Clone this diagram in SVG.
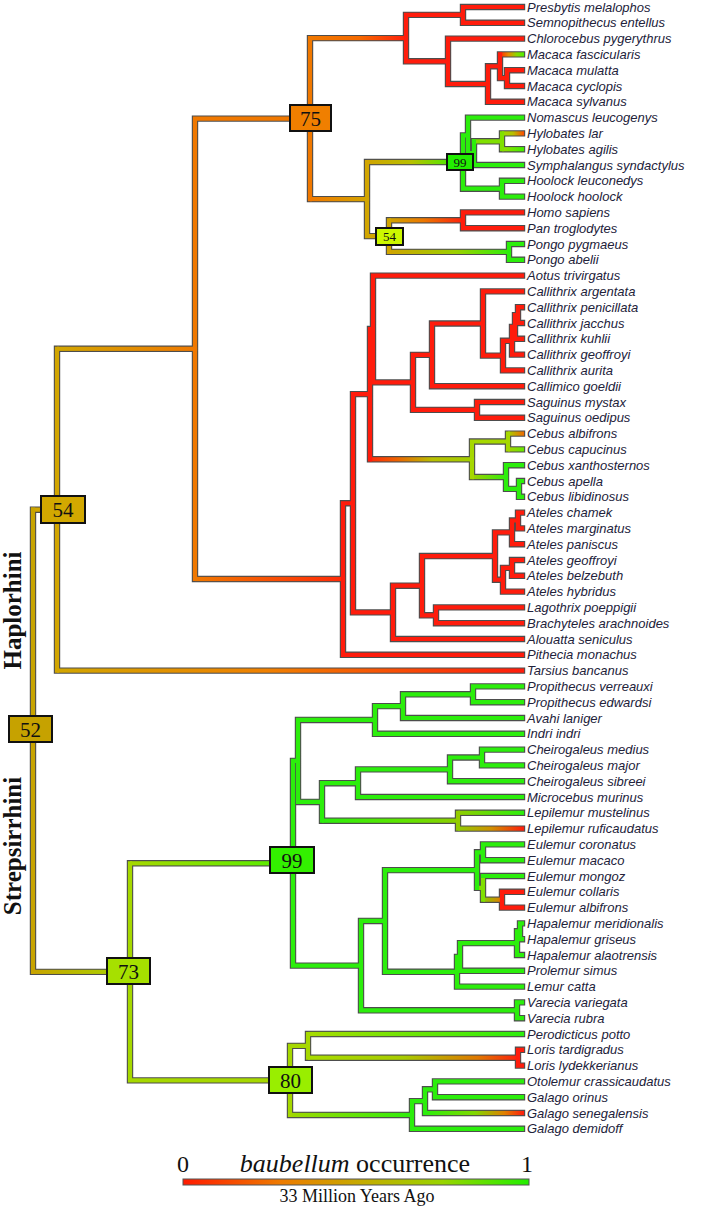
<svg xmlns="http://www.w3.org/2000/svg" width="707" height="1210" viewBox="0 0 707 1210">
<style>
.o{fill:none;stroke:#4d4d4d;stroke-width:6.4;stroke-linecap:square}
.c{fill:none;stroke-width:4.2;stroke-linecap:square}
.lf{font-family:"Liberation Sans",Arial,sans-serif;font-style:italic;font-size:13px;fill:#22223a}
.bx{stroke:#111;stroke-width:2}
.bt{font-family:"Liberation Serif","Times New Roman",serif;font-size:21px;fill:#111;text-anchor:middle}
.bs{font-family:"Liberation Serif","Times New Roman",serif;font-size:13px;fill:#111;text-anchor:middle}
.side{font-family:"Liberation Serif","Times New Roman",serif;font-weight:bold;font-size:25px;fill:#111;text-anchor:middle}
.lg{font-family:"Liberation Serif","Times New Roman",serif;fill:#111;text-anchor:middle}
</style>
<defs>
<linearGradient id="g2"><stop offset="0" stop-color="#c8a400"/><stop offset="1" stop-color="#a6d800"/></linearGradient>
<linearGradient id="g3"><stop offset="0" stop-color="#d2a600"/><stop offset="1" stop-color="#f07800"/></linearGradient>
<linearGradient id="g4"><stop offset="0" stop-color="#d2a600"/><stop offset="0.45" stop-color="#f08000"/><stop offset="1" stop-color="#ff1c0c"/></linearGradient>
<linearGradient id="g6"><stop offset="0" stop-color="#f07800"/><stop offset="1" stop-color="#ff2a08"/></linearGradient>
<linearGradient id="g7"><stop offset="0" stop-color="#f07800"/><stop offset="0.5" stop-color="#f56a00"/><stop offset="1" stop-color="#ff1c0c"/></linearGradient>
<linearGradient id="g8"><stop offset="0" stop-color="#f07800"/><stop offset="1" stop-color="#d2a600"/></linearGradient>
<linearGradient id="g17"><stop offset="0" stop-color="#ff2a00"/><stop offset="0.35" stop-color="#e88a00"/><stop offset="0.7" stop-color="#88dd00"/><stop offset="1" stop-color="#50ee00"/></linearGradient>
<linearGradient id="g21"><stop offset="0" stop-color="#d0a400"/><stop offset="0.45" stop-color="#b8c000"/><stop offset="0.85" stop-color="#50e800"/><stop offset="1" stop-color="#2cee0c"/></linearGradient>
<linearGradient id="g29"><stop offset="0" stop-color="#99dd00"/><stop offset="0.5" stop-color="#b8c000"/><stop offset="1" stop-color="#ff4a00"/></linearGradient>
<linearGradient id="g30"><stop offset="0" stop-color="#99dd00"/><stop offset="1" stop-color="#40ee00"/></linearGradient>
<linearGradient id="g33"><stop offset="0" stop-color="#d0a400"/><stop offset="0.45" stop-color="#ec7800"/><stop offset="1" stop-color="#ff1c0c"/></linearGradient>
<linearGradient id="g34"><stop offset="0" stop-color="#d0a400"/><stop offset="0.55" stop-color="#9cd000"/><stop offset="1" stop-color="#2cee0c"/></linearGradient>
<linearGradient id="g44"><stop offset="0" stop-color="#ff2a08"/><stop offset="0.25" stop-color="#ee6000"/><stop offset="0.6" stop-color="#b8c000"/><stop offset="1" stop-color="#a0d000"/></linearGradient>
<linearGradient id="g64"><stop offset="0" stop-color="#a0d000"/><stop offset="1" stop-color="#2cee0c"/></linearGradient>
<linearGradient id="g65"><stop offset="0" stop-color="#a8d000"/><stop offset="1" stop-color="#f06a00"/></linearGradient>
<linearGradient id="g66"><stop offset="0" stop-color="#a8d000"/><stop offset="1" stop-color="#66e800"/></linearGradient>
<linearGradient id="g87"><stop offset="0" stop-color="#a6d800"/><stop offset="1" stop-color="#50ee00"/></linearGradient>
<linearGradient id="g100"><stop offset="0" stop-color="#2cee0c"/><stop offset="0.6" stop-color="#60e400"/><stop offset="1" stop-color="#90cc00"/></linearGradient>
<linearGradient id="g107"><stop offset="0" stop-color="#90cc00"/><stop offset="1" stop-color="#2cee0c"/></linearGradient>
<linearGradient id="g108"><stop offset="0" stop-color="#90cc00"/><stop offset="0.5" stop-color="#d09000"/><stop offset="1" stop-color="#ff1c0c"/></linearGradient>
<linearGradient id="g118"><stop offset="0" stop-color="#88cc00"/><stop offset="1" stop-color="#f07000"/></linearGradient>
<linearGradient id="g132"><stop offset="0" stop-color="#a0d800"/><stop offset="1" stop-color="#2cee0c"/></linearGradient>
<linearGradient id="g133"><stop offset="0" stop-color="#a8dc00"/><stop offset="1" stop-color="#2cee0c"/></linearGradient>
<linearGradient id="g134"><stop offset="0" stop-color="#a8dc00"/><stop offset="0.45" stop-color="#a8cc00"/><stop offset="0.8" stop-color="#e07800"/><stop offset="1" stop-color="#ff1c0c"/></linearGradient>
<linearGradient id="g140"><stop offset="0" stop-color="#2cee0c"/><stop offset="0.5" stop-color="#80d800"/><stop offset="0.8" stop-color="#e08000"/><stop offset="1" stop-color="#ff1c0c"/></linearGradient>
<linearGradient id="glg"><stop offset="0" stop-color="#ff1a00"/><stop offset="0.28" stop-color="#ee7a00"/><stop offset="0.5" stop-color="#c8a800"/><stop offset="0.75" stop-color="#99d400"/><stop offset="1" stop-color="#22ee00"/></linearGradient>
</defs>
<rect width="707" height="1210" fill="#fff"/>
<g id="connectors">
<path class="o" d="M33 509.7V971.85M57 348.8V670.6M195 118.6V579M310 38.1V199.1M406 14.9V61.3M463 7V22.8M448 38.6V84M488 66.25V101.8M500 54.4V78.1M507 70.2V86M367 162.05V236.1M463 135.4V188.7M468 117.6V153.15M474 141.3V165M502 133.4V149.2M502 180.8V196.6M389 220.3V251.9M463 212.4V228.2M509 244V259.8M343 503.25V654.8M353 394.15V612.35M370 329V459.3M373 275.6V382.4M413 354.85V409.9M432 323.5V386.2M483 291.4V355.6M503 340.8V370.4M512 326.95V354.6M515 315.1V338.8M518 307.2V323M477 402V417.8M472 441.5V477.05M508 433.6V449.4M506 465.2V488.9M519 481V496.8M393 585.7V639M422 556.05V615.3M436 607.4V623.2M495 532.35V579.75M512 520.5V544.2M518 512.6V528.4M503 567.9V591.6M512 560V575.8M130 863.3V1080.4M293 760.95V965.6M298 719.95V801.95M375 706.15V733.8M403 694.3V718M473 686.4V702.2M322 783.2V820.7M358 769.35V797M450 757.5V781.2M482 749.6V765.4M458 812.8V828.6M361 920.95V1010.3M385 870.1V971.8M477 852.3V887.85M483 844.4V860.2M483 876V899.7M502 891.8V907.6M457 956.95V986.6M460 943.15V970.8M517 931.3V955M520 923.4V939.2M517 1002.4V1018.2M290 1045.85V1114.95M308 1034V1057.7M518 1049.8V1065.6M412 1101.15V1128.8M425 1089.3V1113M435 1081.4V1097.2
M33 509.7H57M33 971.85H130M57 348.8H195M57 670.6H522M195 118.6H310M195 579H343M310 38.1H406M310 199.1H367M406 14.9H463M406 61.3H448M463 7H522M463 22.8H522M448 38.6H522M448 84H488M488 66.25H500M488 101.8H522M500 54.4H522M500 78.1H507M507 70.2H522M507 86H522M367 162.05H463M367 236.1H389M463 135.4H468M463 188.7H502M468 117.6H522M468 153.15H474M474 141.3H502M474 165H522M502 133.4H522M502 149.2H522M502 180.8H522M502 196.6H522M389 220.3H463M389 251.9H509M463 212.4H522M463 228.2H522M509 244H522M509 259.8H522M343 503.25H353M343 654.8H522M353 394.15H370M353 612.35H393M370 329H373M370 459.3H472M373 275.6H522M373 382.4H413M413 354.85H432M413 409.9H477M432 323.5H483M432 386.2H522M483 291.4H522M483 355.6H503M503 340.8H512M503 370.4H522M512 326.95H515M512 354.6H522M515 315.1H518M515 338.8H522M518 307.2H522M518 323H522M477 402H522M477 417.8H522M472 441.5H508M472 477.05H506M508 433.6H522M508 449.4H522M506 465.2H522M506 488.9H519M519 481H522M519 496.8H522M393 585.7H422M393 639H522M422 556.05H495M422 615.3H436M436 607.4H522M436 623.2H522M495 532.35H512M495 579.75H503M512 520.5H518M512 544.2H522M518 512.6H522M518 528.4H522M503 567.9H512M503 591.6H522M512 560H522M512 575.8H522M130 863.3H293M130 1080.4H290M293 760.95H298M293 965.6H361M298 719.95H375M298 801.95H322M375 706.15H403M375 733.8H522M403 694.3H473M403 718H522M473 686.4H522M473 702.2H522M322 783.2H358M322 820.7H458M358 769.35H450M358 797H522M450 757.5H482M450 781.2H522M482 749.6H522M482 765.4H522M458 812.8H522M458 828.6H522M361 920.95H385M361 1010.3H517M385 870.1H477M385 971.8H457M477 852.3H483M477 887.85H483M483 844.4H522M483 860.2H522M483 876H522M483 899.7H502M502 891.8H522M502 907.6H522M457 956.95H460M457 986.6H522M460 943.15H517M460 970.8H522M517 931.3H520M517 955H522M520 923.4H522M520 939.2H522M517 1002.4H522M517 1018.2H522M290 1045.85H308M290 1114.95H412M308 1034H522M308 1057.7H518M518 1049.8H522M518 1065.6H522M412 1101.15H425M412 1128.8H522M425 1089.3H435M425 1113H522M435 1081.4H522M435 1097.2H522"/>
<rect x="33" y="969.75" width="99.1" height="4.2" fill="url(#g2)"/>
<rect x="57" y="346.7" width="140.1" height="4.2" fill="url(#g3)"/>
<rect x="57" y="668.5" width="467.1" height="4.2" fill="url(#g4)"/>
<rect x="195" y="576.9" width="150.1" height="4.2" fill="url(#g6)"/>
<rect x="310" y="36" width="98.1" height="4.2" fill="url(#g7)"/>
<rect x="310" y="197" width="59.1" height="4.2" fill="url(#g8)"/>
<rect x="500" y="52.3" width="24.1" height="4.2" fill="url(#g17)"/>
<rect x="367" y="159.95" width="98.1" height="4.2" fill="url(#g21)"/>
<rect x="502" y="131.3" width="22.1" height="4.2" fill="url(#g29)"/>
<rect x="502" y="147.1" width="22.1" height="4.2" fill="url(#g30)"/>
<rect x="389" y="218.2" width="76.1" height="4.2" fill="url(#g33)"/>
<rect x="389" y="249.8" width="122.1" height="4.2" fill="url(#g34)"/>
<rect x="370" y="457.2" width="104.1" height="4.2" fill="url(#g44)"/>
<rect x="472" y="474.95" width="36.1" height="4.2" fill="url(#g64)"/>
<rect x="508" y="431.5" width="16.1" height="4.2" fill="url(#g65)"/>
<rect x="508" y="447.3" width="16.1" height="4.2" fill="url(#g66)"/>
<rect x="130" y="861.2" width="165.1" height="4.2" fill="url(#g87)"/>
<rect x="322" y="818.6" width="138.1" height="4.2" fill="url(#g100)"/>
<rect x="458" y="810.7" width="66.1" height="4.2" fill="url(#g107)"/>
<rect x="458" y="826.5" width="66.1" height="4.2" fill="url(#g108)"/>
<rect x="483" y="897.6" width="21.1" height="4.2" fill="url(#g118)"/>
<rect x="290" y="1112.85" width="124.1" height="4.2" fill="url(#g132)"/>
<rect x="308" y="1031.9" width="216.1" height="4.2" fill="url(#g133)"/>
<rect x="308" y="1055.6" width="212.1" height="4.2" fill="url(#g134)"/>
<rect x="425" y="1110.9" width="99.1" height="4.2" fill="url(#g140)"/>
<path class="c" stroke="#ff1c0c" d="M406 14.9V61.3M463 7V22.8M448 38.6V84M488 66.25V101.8M500 54.4V78.1M507 70.2V86M463 212.4V228.2M343 503.25V654.8M353 394.15V612.35M370 329V459.3M373 275.6V382.4M413 354.85V409.9M432 323.5V386.2M483 291.4V355.6M503 340.8V370.4M512 326.95V354.6M515 315.1V338.8M518 307.2V323M477 402V417.8M393 585.7V639M422 556.05V615.3M436 607.4V623.2M495 532.35V579.75M512 520.5V544.2M518 512.6V528.4M503 567.9V591.6M512 560V575.8M502 891.8V907.6M518 1049.8V1065.6M406 14.9H463M406 61.3H448M463 7H522M463 22.8H522M448 38.6H522M448 84H488M488 66.25H500M488 101.8H522M500 78.1H507M507 70.2H522M507 86H522M463 212.4H522M463 228.2H522M343 503.25H353M343 654.8H522M353 394.15H370M353 612.35H393M370 329H373M373 275.6H522M373 382.4H413M413 354.85H432M413 409.9H477M432 323.5H483M432 386.2H522M483 291.4H522M483 355.6H503M503 340.8H512M503 370.4H522M512 326.95H515M512 354.6H522M515 315.1H518M515 338.8H522M518 307.2H522M518 323H522M477 402H522M477 417.8H522M393 585.7H422M393 639H522M422 556.05H495M422 615.3H436M436 607.4H522M436 623.2H522M495 532.35H512M495 579.75H503M512 520.5H518M512 544.2H522M518 512.6H522M518 528.4H522M503 567.9H512M503 591.6H522M512 560H522M512 575.8H522M502 891.8H522M502 907.6H522M518 1049.8H522M518 1065.6H522"/>
<path class="c" stroke="#f07800" d="M195 118.6V579M310 38.1V199.1M195 118.6H310"/>
<path class="c" stroke="#d2a600" d="M57 348.8V670.6M367 162.05V236.1M389 220.3V251.9M33 509.7H57M367 236.1H389"/>
<path class="c" stroke="#c8a400" d="M33 509.7V971.85"/>
<path class="c" stroke="#a6d800" d="M130 863.3V1080.4M290 1045.85V1114.95M308 1034V1057.7M472 441.5V477.05M508 433.6V449.4M130 1080.4H290M290 1045.85H308M472 441.5H508"/>
<path class="c" stroke="#94cc00" d="M458 812.8V828.6"/>
<path class="c" stroke="#80e000" d="M502 133.4V149.2M474 141.3H502M483 876V899.7M477 887.85H483"/>
<path class="c" stroke="#2cee0c" d="M463 135.4V188.7M468 117.6V153.15M474 141.3V165M502 180.8V196.6M509 244V259.8M506 465.2V488.9M519 481V496.8M293 760.95V965.6M298 719.95V801.95M375 706.15V733.8M403 694.3V718M473 686.4V702.2M322 783.2V820.7M358 769.35V797M450 757.5V781.2M482 749.6V765.4M361 920.95V1010.3M385 870.1V971.8M477 852.3V887.85M483 844.4V860.2M457 956.95V986.6M460 943.15V970.8M517 931.3V955M520 923.4V939.2M517 1002.4V1018.2M412 1101.15V1128.8M425 1089.3V1113M435 1081.4V1097.2M463 135.4H468M463 188.7H502M468 117.6H522M468 153.15H474M474 165H522M502 180.8H522M502 196.6H522M509 244H522M509 259.8H522M506 465.2H522M506 488.9H519M519 481H522M519 496.8H522M293 760.95H298M293 965.6H361M298 719.95H375M298 801.95H322M375 706.15H403M375 733.8H522M403 694.3H473M403 718H522M473 686.4H522M473 702.2H522M322 783.2H358M358 769.35H450M358 797H522M450 757.5H482M450 781.2H522M482 749.6H522M482 765.4H522M361 920.95H385M361 1010.3H517M385 870.1H477M385 971.8H457M477 852.3H483M483 844.4H522M483 860.2H522M483 876H522M457 956.95H460M457 986.6H522M460 943.15H517M460 970.8H522M517 931.3H520M517 955H522M520 923.4H522M520 939.2H522M517 1002.4H522M517 1018.2H522M412 1101.15H425M412 1128.8H522M425 1089.3H435M435 1081.4H522M435 1097.2H522"/>
</g>
<g id="node-52"><rect class="bx" x="9" y="716" width="43" height="26" fill="#c6a200"/><text class="bt" x="30.5" y="736.5">52</text></g>
<g id="node-54"><rect class="bx" x="41" y="496" width="44" height="27" fill="#d2a800"/><text class="bt" x="63" y="517">54</text></g>
<g id="node-75"><rect class="bx" x="290" y="105" width="41" height="26" fill="#f07f00"/><text class="bt" x="310.5" y="125.5">75</text></g>
<g id="node-73"><rect class="bx" x="107" y="958" width="43" height="26" fill="#a6e000"/><text class="bt" x="128.5" y="978.5">73</text></g>
<g id="node-99-lemur"><rect class="bx" x="270" y="847" width="44" height="26" fill="#33f000"/><text class="bt" x="292" y="867.5">99</text></g>
<g id="node-80"><rect class="bx" x="269" y="1067" width="43" height="26" fill="#99ee00"/><text class="bt" x="290.5" y="1087.5">80</text></g>
<g id="node-99-gibbon"><rect class="bx" x="447" y="154" width="26" height="16" fill="#22ee00"/><text class="bs" x="460" y="166.5">99</text></g>
<g id="node-54-hominid"><rect class="bx" x="376" y="228" width="27" height="17" fill="#ccf800"/><text class="bs" x="389.5" y="241">54</text></g>
<g id="clade-labels">
<text class="side" transform="translate(21 610.5) rotate(-90)">Haplorhini</text>
<text class="side" transform="translate(21 846) rotate(-90)">Strepsirrhini</text>
</g>
<g id="leaves">
<text class="lf" x="527" y="11.6">Presbytis melalophos</text>
<text class="lf" x="527" y="27.4">Semnopithecus entellus</text>
<text class="lf" x="527" y="43.2">Chlorocebus pygerythrus</text>
<text class="lf" x="527" y="59">Macaca fascicularis</text>
<text class="lf" x="527" y="74.8">Macaca mulatta</text>
<text class="lf" x="527" y="90.6">Macaca cyclopis</text>
<text class="lf" x="527" y="106.4">Macaca sylvanus</text>
<text class="lf" x="527" y="122.2">Nomascus leucogenys</text>
<text class="lf" x="527" y="138">Hylobates lar</text>
<text class="lf" x="527" y="153.8">Hylobates agilis</text>
<text class="lf" x="527" y="169.6">Symphalangus syndactylus</text>
<text class="lf" x="527" y="185.4">Hoolock leuconedys</text>
<text class="lf" x="527" y="201.2">Hoolock hoolock</text>
<text class="lf" x="527" y="217">Homo sapiens</text>
<text class="lf" x="527" y="232.8">Pan troglodytes</text>
<text class="lf" x="527" y="248.6">Pongo pygmaeus</text>
<text class="lf" x="527" y="264.4">Pongo abelii</text>
<text class="lf" x="527" y="280.2">Aotus trivirgatus</text>
<text class="lf" x="527" y="296">Callithrix argentata</text>
<text class="lf" x="527" y="311.8">Callithrix penicillata</text>
<text class="lf" x="527" y="327.6">Callithrix jacchus</text>
<text class="lf" x="527" y="343.4">Callithrix kuhlii</text>
<text class="lf" x="527" y="359.2">Callithrix geoffroyi</text>
<text class="lf" x="527" y="375">Callithrix aurita</text>
<text class="lf" x="527" y="390.8">Callimico goeldii</text>
<text class="lf" x="527" y="406.6">Saguinus mystax</text>
<text class="lf" x="527" y="422.4">Saguinus oedipus</text>
<text class="lf" x="527" y="438.2">Cebus albifrons</text>
<text class="lf" x="527" y="454">Cebus capucinus</text>
<text class="lf" x="527" y="469.8">Cebus xanthosternos</text>
<text class="lf" x="527" y="485.6">Cebus apella</text>
<text class="lf" x="527" y="501.4">Cebus libidinosus</text>
<text class="lf" x="527" y="517.2">Ateles chamek</text>
<text class="lf" x="527" y="533">Ateles marginatus</text>
<text class="lf" x="527" y="548.8">Ateles paniscus</text>
<text class="lf" x="527" y="564.6">Ateles geoffroyi</text>
<text class="lf" x="527" y="580.4">Ateles belzebuth</text>
<text class="lf" x="527" y="596.2">Ateles hybridus</text>
<text class="lf" x="527" y="612">Lagothrix poeppigii</text>
<text class="lf" x="527" y="627.8">Brachyteles arachnoides</text>
<text class="lf" x="527" y="643.6">Alouatta seniculus</text>
<text class="lf" x="527" y="659.4">Pithecia monachus</text>
<text class="lf" x="527" y="675.2">Tarsius bancanus</text>
<text class="lf" x="527" y="691">Propithecus verreauxi</text>
<text class="lf" x="527" y="706.8">Propithecus edwardsi</text>
<text class="lf" x="527" y="722.6">Avahi laniger</text>
<text class="lf" x="527" y="738.4">Indri indri</text>
<text class="lf" x="527" y="754.2">Cheirogaleus medius</text>
<text class="lf" x="527" y="770">Cheirogaleus major</text>
<text class="lf" x="527" y="785.8">Cheirogaleus sibreei</text>
<text class="lf" x="527" y="801.6">Microcebus murinus</text>
<text class="lf" x="527" y="817.4">Lepilemur mustelinus</text>
<text class="lf" x="527" y="833.2">Lepilemur ruficaudatus</text>
<text class="lf" x="527" y="849">Eulemur coronatus</text>
<text class="lf" x="527" y="864.8">Eulemur macaco</text>
<text class="lf" x="527" y="880.6">Eulemur mongoz</text>
<text class="lf" x="527" y="896.4">Eulemur collaris</text>
<text class="lf" x="527" y="912.2">Eulemur albifrons</text>
<text class="lf" x="527" y="928">Hapalemur meridionalis</text>
<text class="lf" x="527" y="943.8">Hapalemur griseus</text>
<text class="lf" x="527" y="959.6">Hapalemur alaotrensis</text>
<text class="lf" x="527" y="975.4">Prolemur simus</text>
<text class="lf" x="527" y="991.2">Lemur catta</text>
<text class="lf" x="527" y="1007">Varecia variegata</text>
<text class="lf" x="527" y="1022.8">Varecia rubra</text>
<text class="lf" x="527" y="1038.6">Perodicticus potto</text>
<text class="lf" x="527" y="1054.4">Loris tardigradus</text>
<text class="lf" x="527" y="1070.2">Loris lydekkerianus</text>
<text class="lf" x="527" y="1086">Otolemur crassicaudatus</text>
<text class="lf" x="527" y="1101.8">Galago orinus</text>
<text class="lf" x="527" y="1117.6">Galago senegalensis</text>
<text class="lf" x="527" y="1133.4">Galago demidoff</text>
</g>
<g id="legend">
<text class="lg" x="183" y="1172" font-size="24" font-family="'Liberation Serif','Times New Roman',serif">0</text>
<text class="lg" x="355" y="1172" font-size="26" font-family="'Liberation Serif','Times New Roman',serif"><tspan font-style="italic">baubellum</tspan> occurrence</text>
<text class="lg" x="527" y="1172" font-size="24" font-family="'Liberation Serif','Times New Roman',serif">1</text>
<rect x="183" y="1179" width="346" height="6" fill="url(#glg)" stroke="#555" stroke-width="1"/>
<text class="lg" x="357" y="1202" font-size="18" font-family="'Liberation Serif','Times New Roman',serif">33 Million Years Ago</text>
</g>
</svg>
